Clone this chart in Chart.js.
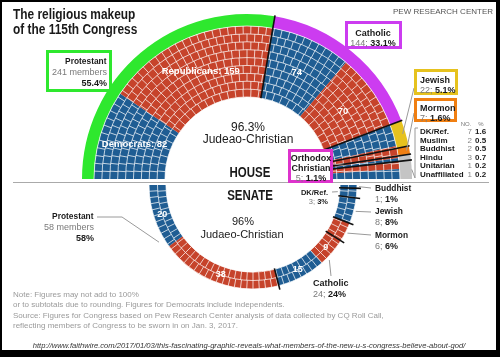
<!DOCTYPE html>
<html><head><meta charset="utf-8">
<script src="https://cdn.jsdelivr.net/npm/chart.js@4.4.1/dist/chart.umd.min.js"></script>
<style>
html,body{margin:0;padding:0;background:#fff;overflow:hidden}
#wrap{position:relative;width:500px;height:357px;overflow:hidden;background:#fff;font-family:"Liberation Sans",Arial,Helvetica,sans-serif}
#wrap canvas{position:absolute;left:0;top:0}
#frame{position:absolute;left:0;top:0;width:500px;height:357px;box-sizing:border-box;border:solid #000;border-width:2px 4px 7px 2px;z-index:10}
.t{position:absolute;white-space:nowrap;line-height:1;z-index:4}
.box{position:absolute;box-sizing:border-box;border:3px solid;background:#fff;z-index:3}
.g{color:#7a7a7a;font-weight:normal}
.k{color:#1a1a1a;font-weight:bold}
</style></head><body>
<div id="wrap">
<canvas id="house" width="500" height="357"></canvas>
<canvas id="senate" width="500" height="357"></canvas>
<div id="frame"></div>
</div>
<script>
// ---------------- DATA ----------------
// House: religion totals (outer colour band), 435 members
const houseReligions = ['Protestant','Catholic','Jewish','Mormon','Orthodox Christian','Other'];
const houseReligionCounts = [241,144,22,7,5,16];
const houseReligionPct = [55.4,33.1,5.1,1.6,1.1,3.7];
// House seats by religion and party, in order around the hemicycle (left to right)
const houseSeatReligion = ['Protestant','Protestant','Catholic','Catholic','Jewish','Jewish','Mormon','Orthodox Christian','Orthodox Christian','Other','Other'];
const houseSeatParty = ['D','R','D','R','D','R','R','R','D','R','D'];
const houseSeatCounts = [82,159,74,70,20,2,7,2,3,7,9];
const houseSeatLabelNames = ['Democrats','Republicans','','',null,null,null,null,null,null,null];
// House smaller groups (table)
const otherReligions = ['DK/Ref.','Muslim','Buddhist','Hindu','Unitarian','Unaffiliated'];
const otherCounts = [7,2,2,3,1,1];
const otherPct = ['1.6','0.5','0.5','0.7','0.2','0.2'];
// Senate (100 members), left to right
const senateSeatReligion = ['Protestant','Protestant','Catholic','Catholic','Mormon','Jewish','DK/Ref.','Buddhist'];
const senateSeatParty = ['D','R','D','R','R','D','D','D'];
const senateSeatCounts = [20,38,15,9,6,8,3,1];
const senateSeatShowLabel = [true,true,true,true,false,false,false,false];
const senateReligions = ['Protestant','Catholic','Mormon','Jewish','DK/Ref.','Buddhist'];
const senateReligionCounts = [58,24,6,8,3,1];
const senateReligionPct = [58,24,6,8,3,1];
const judeoChristian = ['Protestant','Catholic','Jewish','Mormon','Orthodox Christian'];

// ---------------- STYLE ----------------
const BLUE = '#1f5d93', RED = '#c6432b';
const ringColors = ['#2ee82e','#cc3cf0','#e6c21e','#f07f12','#c4c4c4','#c4c4c4'];
const partyColor = p => p === 'D' ? BLUE : RED;
const sum = a => a.reduce((s, v) => s + v, 0);
const rev = a => a.slice().reverse();
const FONT = '"Liberation Sans", Arial, sans-serif';

// ---------------- HTML TEXT ----------------
const wrap = document.getElementById('wrap');
function txt(html, x, capTop, o = {}) {
  const s = o.size || 9, d = document.createElement('div');
  d.className = 't'; d.innerHTML = html;
  d.style.fontSize = s + 'px';
  d.style.fontWeight = o.bold ? 'bold' : 'normal';
  d.style.color = o.color || '#1a1a1a';
  if (o.italic) d.style.fontStyle = 'italic';
  d.style.top = (capTop - 0.13 * s) + 'px';
  const al = o.align || 'left', sx = o.sx || 1;
  if (al === 'left') { d.style.left = x + 'px'; d.style.transformOrigin = '0 0'; }
  else if (al === 'right') { d.style.right = (500 - x) + 'px'; d.style.transformOrigin = '100% 0'; }
  else { d.style.left = (x - 250) + 'px'; d.style.width = '500px'; d.style.textAlign = 'center'; d.style.transformOrigin = '50% 0'; }
  if (sx !== 1) d.style.transform = 'scaleX(' + sx + ')';
  wrap.appendChild(d); return d;
}
function box(x0, y0, x1, y1, c) {
  const d = document.createElement('div'); d.className = 'box';
  d.style.left = x0 + 'px'; d.style.top = y0 + 'px';
  d.style.width = (x1 - x0) + 'px'; d.style.height = (y1 - y0) + 'px';
  d.style.borderColor = c; wrap.appendChild(d);
}
function hline(x0, x1, y, c) {
  const d = document.createElement('div');
  d.style.cssText = 'position:absolute;left:' + x0 + 'px;top:' + y + 'px;width:' + (x1 - x0) + 'px;height:1px;background:' + c + ';z-index:2';
  wrap.appendChild(d);
}
const H = i => houseReligionCounts[i], HP = i => houseReligionPct[i].toFixed(1);
const S = r => senateReligionCounts[senateReligions.indexOf(r)], SP = r => senateReligionPct[senateReligions.indexOf(r)];

txt('The religious makeup', 13, 9.3, {size: 14, bold: true, sx: 0.85});
txt('of the 115th Congress', 13, 24, {size: 14, bold: true, sx: 0.85});
txt('PEW RESEARCH CENTER', 493, 9, {size: 8, color: '#555', align: 'right'});

box(46, 50, 112, 92, '#2ee82e');
txt('Protestant', 107, 58, {size: 9, bold: true, align: 'right', sx: 0.93});
txt(H(0) + ' members', 107, 69, {size: 9, color: '#7a7a7a', align: 'right'});
txt(HP(0) + '%', 107, 80, {size: 9, bold: true, align: 'right'});

box(345, 21, 402, 49, '#cc3cf0');
txt('Catholic', 373, 30, {size: 9, bold: true, align: 'center'});
txt('<span class="g">' + H(1) + ';</span> <span class="k">' + HP(1) + '%</span>', 373, 40, {size: 9, align: 'center'});

box(414, 69, 458, 95, '#e6c21e');
txt('Jewish', 420, 77, {size: 9, bold: true});
txt('<span class="g">' + H(2) + ';</span> <span class="k">' + HP(2) + '%</span>', 420, 87, {size: 9});

box(414, 98, 457, 122, '#f07f12');
txt('Mormon', 420, 105, {size: 9, bold: true});
txt('<span class="g">' + H(3) + ';</span> <span class="k">' + HP(3) + '%</span>', 420, 115, {size: 9});

box(288, 149, 333, 183, '#dd33cc');
txt('Orthodox', 311, 155, {size: 9, bold: true, align: 'center'});
txt('Christian', 311, 165, {size: 9, bold: true, align: 'center'});
txt('<span class="g">' + H(4) + ';</span> <span class="k">' + HP(4) + '%</span>', 311, 175, {size: 9, align: 'center'});

txt('NO.', 466, 122, {size: 6, color: '#777', align: 'center'});
txt('%', 481, 122, {size: 6, color: '#777', align: 'center'});
otherReligions.forEach((r, i) => {
  const y = 129 + i * 8.55;
  txt(r, 420, y, {size: 8, bold: true});
  txt(String(otherCounts[i]), 472, y, {size: 8, color: '#888', align: 'right'});
  txt(otherPct[i], 475, y, {size: 8, bold: true});
});

const houseJC = sum(judeoChristian.map(r => houseReligionPct[houseReligions.indexOf(r)]));
const senateJC = sum(judeoChristian.filter(r => senateReligions.includes(r)).map(r => SP(r)));
txt(houseJC.toFixed(1) + '%', 248, 123, {size: 12, align: 'center'});
txt('Judeao-Christian', 248, 135, {size: 12, align: 'center'});
txt('HOUSE', 250, 167, {size: 14, bold: true, align: 'center', sx: 0.82});
hline(13, 489, 182, '#aaa');
txt('SENATE', 250, 190, {size: 14, bold: true, align: 'center', sx: 0.82});
txt(senateJC + '%', 243, 217, {size: 11, align: 'center'});
txt('Judaeo-Christian', 242, 230, {size: 11, align: 'center'});

txt('Protestant', 94, 213, {size: 9, bold: true, align: 'right', sx: 0.93});
txt(S('Protestant') + ' members', 94, 224, {size: 9, color: '#7a7a7a', align: 'right'});
txt(SP('Protestant') + '%', 94, 235, {size: 9, bold: true, align: 'right'});
txt('DK/Ref.', 328, 190, {size: 7.5, bold: true, align: 'right'});
txt('<span class="g">' + S('DK/Ref.') + ';</span> <span class="k">' + SP('DK/Ref.') + '%</span>', 328, 199, {size: 7.5, align: 'right'});
[['Buddhist', 185], ['Jewish', 208], ['Mormon', 232]].forEach(([r, y]) => {
  txt(r, 375, y, {size: 9, bold: true, sx: 0.93});
  txt('<span class="g">' + S(r) + ';</span> <span class="k">' + SP(r) + '%</span>', 375, y + 11, {size: 9});
});
txt('Catholic', 313, 280, {size: 9, bold: true});
txt('<span class="g">' + S('Catholic') + ';</span> <span class="k">' + SP('Catholic') + '%</span>', 313, 291, {size: 9});

const noteC = '#9a9a9a';
txt('Note: Figures may not add to 100%', 13, 292, {size: 8, color: noteC});
txt('or to subtotals due to rounding. Figures for Democrats include independents.', 13, 302.5, {size: 8, color: noteC});
txt('Source: Figures for Congress based on Pew Research Center analysis of data collected by CQ Roll Call,', 13, 313, {size: 8, color: noteC});
txt('reflecting members of Congress to be sworn in on Jan. 3, 2017.', 13, 323.5, {size: 8, color: noteC});
txt('http://www.faithwire.com/2017/01/03/this-fascinating-graphic-reveals-what-members-of-the-new-u-s-congress-believe-about-god/', 249, 343, {size: 8, italic: true, color: '#333', align: 'center', sx: 0.95});

// ---------------- PLUGINS ----------------
function arcPt(el, frac, r) {
  const a = el.startAngle + (el.endAngle - el.startAngle) * frac;
  return {x: el.x + r * Math.cos(a), y: el.y + r * Math.sin(a)};
}
function spanOf(meta) {
  const f = meta.data[0], l = meta.data[meta.data.length - 1];
  return {f, a0: f.startAngle, a1: l.endAngle};
}
function makeGrid(ds, rows) {
  return {id: 'grid' + ds, afterDatasetsDraw(chart) {
    const meta = chart.getDatasetMeta(ds); if (!meta.data.length) return;
    const {f, a0, a1} = spanOf(meta);
    const total = sum(chart.data.datasets[ds].data);
    const rin = f.innerRadius, rout = f.outerRadius, h = (rout - rin) / rows;
    const mids = []; for (let i = 0; i < rows; i++) mids.push(rin + (i + 0.5) * h);
    const sm = sum(mids);
    const ctx = chart.ctx; ctx.save();
    ctx.strokeStyle = 'rgba(255,255,255,0.72)'; ctx.lineWidth = 1;
    for (let i = 0; i <= rows; i++) { ctx.beginPath(); ctx.arc(f.x, f.y, rin + i * h, a0, a1); ctx.stroke(); }
    for (let i = 0; i < rows; i++) {
      const n = Math.round(total * mids[i] / sm), r0 = rin + i * h, r1 = r0 + h;
      ctx.beginPath();
      for (let k = 1; k < n; k++) {
        const a = a0 + (a1 - a0) * k / n, c = Math.cos(a), s = Math.sin(a);
        ctx.moveTo(f.x + r0 * c, f.y + r0 * s); ctx.lineTo(f.x + r1 * c, f.y + r1 * s);
      }
      ctx.stroke();
    }
    ctx.restore();
  }};
}
function makeBounds(innerDs, outerDs, counts, reverse, extIn, extOut) {
  return {id: 'bounds' + innerDs, afterDatasetsDraw(chart) {
    const mi = chart.getDatasetMeta(innerDs), mo = chart.getDatasetMeta(outerDs);
    const {f, a0, a1} = spanOf(mi);
    const rin = f.innerRadius - extIn, rout = mo.data[0].outerRadius + extOut;
    const total = sum(counts); let cum = 0;
    const ctx = chart.ctx; ctx.save(); ctx.strokeStyle = '#111'; ctx.lineWidth = 1.6;
    for (let i = 0; i < counts.length - 1; i++) {
      cum += counts[i];
      const fr = cum / total, a = reverse ? a1 - (a1 - a0) * fr : a0 + (a1 - a0) * fr;
      ctx.beginPath();
      ctx.moveTo(f.x + rin * Math.cos(a), f.y + rin * Math.sin(a));
      ctx.lineTo(f.x + rout * Math.cos(a), f.y + rout * Math.sin(a));
      ctx.stroke();
    }
    ctx.restore();
  }};
}
function makeLabels(ds, labels, size) {
  return {id: 'labels' + ds, afterDatasetsDraw(chart) {
    const meta = chart.getDatasetMeta(ds), ctx = chart.ctx; ctx.save();
    ctx.fillStyle = '#fff'; ctx.font = 'bold ' + size + 'px ' + FONT;
    ctx.textAlign = 'center'; ctx.textBaseline = 'middle';
    meta.data.forEach((el, i) => { const t = labels[i]; if (!t) return; const p = el.getCenterPoint(); ctx.fillText(t, p.x, p.y); });
    ctx.restore();
  }};
}
function drawLine(ctx, pts) { ctx.beginPath(); pts.forEach((p, i) => i ? ctx.lineTo(p.x, p.y) : ctx.moveTo(p.x, p.y)); ctx.stroke(); }

const houseLeaders = {id: 'houseLeaders', afterDatasetsDraw(chart) {
  const ring = chart.getDatasetMeta(0).data, seats = chart.getDatasetMeta(1).data, ctx = chart.ctx;
  ctx.save(); ctx.strokeStyle = '#9a9a9a'; ctx.lineWidth = 1;
  const j = ring[houseReligions.indexOf('Jewish')], m = ring[houseReligions.indexOf('Mormon')];
  const o = ring[houseReligions.indexOf('Orthodox Christian')], ot = ring[houseReligions.indexOf('Other')];
  drawLine(ctx, [{x: 414, y: 88}, arcPt(j, 0.5, j.outerRadius - 3)]);
  drawLine(ctx, [{x: 414, y: 113}, arcPt(m, 0.5, m.outerRadius - 3)]);
  drawLine(ctx, [{x: 333, y: 164}, arcPt(o, 0.5, seats[0].innerRadius + 18)]);
  drawLine(ctx, [{x: 418, y: 128}, {x: 415, y: 128}, {x: 415, y: 178}, arcPt(ot, 0.5, ot.outerRadius)]);
  ctx.restore();
}};

function senateAngle(chart, fracFromLeft) {
  const {a0, a1} = spanOf(chart.getDatasetMeta(0));
  return a1 - (a1 - a0) * fracFromLeft;
}
function senateGroupFrac(r, within) {
  const i = senateReligions.indexOf(r), tot = sum(senateReligionCounts);
  return (sum(senateReligionCounts.slice(0, i)) + senateReligionCounts[i] * within) / tot;
}
const senateLeaders = {id: 'senateLeaders', afterDatasetsDraw(chart) {
  const f = chart.getDatasetMeta(0).data[0], ctx = chart.ctx;
  const pt = (r, within, rad) => { const a = senateAngle(chart, senateGroupFrac(r, within)); return {x: f.x + rad * Math.cos(a), y: f.y + rad * Math.sin(a)}; };
  const R = f.outerRadius, Ri = f.innerRadius;
  ctx.save(); ctx.strokeStyle = '#9a9a9a'; ctx.lineWidth = 1;
  drawLine(ctx, [{x: 97, y: 217}, {x: 122, y: 217}, pt('Protestant', 0.3, R + 6)]);
  drawLine(ctx, [{x: 331, y: 276}, pt('Catholic', 0.72, R + 3)]);
  drawLine(ctx, [{x: 332, y: 192}, pt('DK/Ref.', 0.5, Ri - 2)]);
  drawLine(ctx, [pt('Buddhist', 0.5, R + 2), {x: 371, y: 188}]);
  drawLine(ctx, [pt('Jewish', 0.5, R + 2), {x: 371, y: 212}]);
  drawLine(ctx, [pt('Mormon', 0.5, R + 2), {x: 371, y: 235}]);
  ctx.restore();
}};

// ---------------- CHARTS ----------------
const baseOpts = {responsive: false, animation: false, events: [], plugins: {legend: {display: false}, tooltip: {enabled: false}}};

const houseLabels = houseSeatCounts.map((v, i) => houseSeatLabelNames[i] === null ? '' : (houseSeatLabelNames[i] ? houseSeatLabelNames[i] + ': ' : '') + v);
new Chart(document.getElementById('house'), {
  type: 'doughnut',
  data: {labels: houseSeatReligion, datasets: [
    {label: 'Religion', data: houseReligionCounts, backgroundColor: ringColors, borderWidth: 0, weight: 12},
    {label: 'Seats', data: houseSeatCounts, backgroundColor: houseSeatParty.map(partyColor), borderWidth: 0, weight: 71}
  ]},
  options: Object.assign({}, baseOpts, {rotation: -90, circumference: 180, radius: 165, cutout: '49.7%',
    layout: {padding: {left: 0, right: 6, top: 0, bottom: 164}}}),
  plugins: [makeGrid(1, 9), makeBounds(1, 0, houseReligionCounts, false, 0, 1), makeLabels(1, houseLabels, 9.5), houseLeaders]
});

const senateLabels = senateSeatCounts.map((v, i) => senateSeatShowLabel[i] ? String(v) : '');
new Chart(document.getElementById('senate'), {
  type: 'doughnut',
  data: {labels: rev(senateSeatReligion), datasets: [
    {label: 'Senate', data: rev(senateSeatCounts), backgroundColor: rev(senateSeatParty).map(partyColor), borderWidth: 0}
  ]},
  options: Object.assign({}, baseOpts, {rotation: 90, circumference: 180, radius: 104, cutout: '83.7%',
    layout: {padding: {left: 6, right: 0, top: 117, bottom: 0}}}),
  plugins: [makeGrid(0, 2), makeBounds(0, 0, senateReligionCounts, true, 1, 4), makeLabels(0, rev(senateLabels), 9), senateLeaders]
});
</script>
</body></html>
